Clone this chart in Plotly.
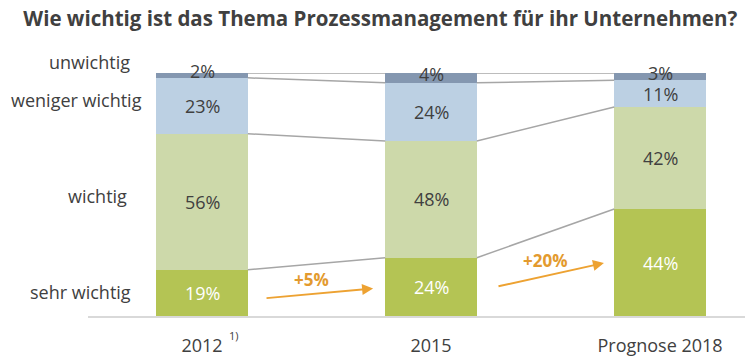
import plotly.graph_objects as go

categories = ["2012", "2015", "Prognose 2018"]
segments = ["sehr wichtig", "wichtig", "weniger wichtig", "unwichtig"]
sehr_wichtig = [19, 24, 44]
wichtig = [56, 48, 42]
weniger_wichtig = [23, 24, 11]
unwichtig = [2, 4, 3]
growth_labels = ["+5%", "+20%"]

series = [sehr_wichtig, wichtig, weniger_wichtig, unwichtig]
colors = ["#B4C454", "#CDD9AA", "#BCD0E3", "#8497B0"]
text_colors = ["#FFFFFF", "#404040", "#404040", "#404040"]
FONT = "Open Sans"
BW = 0.4
xs = list(range(len(categories)))

fig = go.Figure()
for name, vals, col in zip(segments, series, colors):
    fig.add_trace(go.Bar(x=xs, y=vals, name=name, width=BW, marker=dict(color=col, line=dict(width=0)),
                         hoverinfo="skip"))

# cumulative levels
cum = []
running = [0] * len(xs)
for vals in series:
    running = [r + v for r, v in zip(running, vals)]
    cum.append(list(running))

# connector lines
for level in cum:
    for i in range(len(xs) - 1):
        fig.add_trace(go.Scatter(x=[xs[i] + BW / 2, xs[i + 1] - BW / 2], y=[level[i], level[i + 1]],
                                 mode="lines", line=dict(color="#A6A6A6", width=1.5),
                                 hoverinfo="skip", showlegend=False))

annotations = []
# value labels
for s, vals in enumerate(series):
    for i in xs:
        top = cum[s][i]
        center = top - vals[i] / 2
        annotations.append(dict(x=xs[i], y=center, xref="x", yref="y", text=f"{vals[i]}%",
                                showarrow=False, yshift=4 if vals[i] < 5 else 0,
                                font=dict(family=FONT, size=18, color=text_colors[s])))

# left segment labels (paper coords)
left_pos = [(-0.0107, 0.097), (0.0137, 0.492), (-0.017, 0.887), (0.003, 1.044)]
for name, (lx, ly) in zip(segments, left_pos):
    annotations.append(dict(x=lx, y=ly, xref="paper", yref="paper", text=name, showarrow=False,
                            xanchor="center", yanchor="middle",
                            font=dict(family=FONT, size=18, color="#404040")))

# growth arrows
arrow_geo = [((0.275, 7.3), (0.747, 11.3), (0.476, 14.9)),
             ((1.288, 12.1), (1.755, 21.8), (1.498, 23.0))]
for label, (tail, head, lab) in zip(growth_labels, arrow_geo):
    annotations.append(dict(x=head[0], y=head[1], ax=tail[0], ay=tail[1], xref="x", yref="y",
                            axref="x", ayref="y", text="", showarrow=True, arrowhead=2,
                            arrowsize=1.1, arrowwidth=2, arrowcolor="#EDA232"))
    annotations.append(dict(x=lab[0], y=lab[1], xref="x", yref="y", text=f"<b>{label}</b>",
                            showarrow=False, font=dict(family=FONT, size=17, color="#E39A2E")))

# footnote marker
annotations.append(dict(x=0, y=0, xref="x", yref="y", text="1)", showarrow=False,
                        xshift=32, yshift=-19, font=dict(family=FONT, size=11, color="#404040")))

fig.update_layout(
    width=750, height=362,
    margin=dict(l=88, r=5, t=73, b=41),
    barmode="stack",
    showlegend=False,
    plot_bgcolor="white", paper_bgcolor="white",
    title=dict(text="<b>Wie wichtig ist das Thema Prozessmanagement für ihr Unternehmen?</b>",
               x=0.507, xref="container", xanchor="center", y=0.948, yref="container", yanchor="middle",
               font=dict(family=FONT, size=20.5, color="#404040")),
    xaxis=dict(range=[-0.498, 2.371], tickmode="array", tickvals=xs, ticktext=categories,
               showline=True, linecolor="#D9D9D9", linewidth=1.5, showgrid=False, zeroline=False,
               ticks="", ticklabelstandoff=13, tickfont=dict(family=FONT, size=18, color="#404040")),
    yaxis=dict(range=[0, 100], visible=False, showgrid=False, zeroline=False),
    annotations=annotations,
)

fig.write_html("out.html", config={"displayModeBar": False},
               post_script="document.body.style.margin='0';document.body.style.padding='0';")
